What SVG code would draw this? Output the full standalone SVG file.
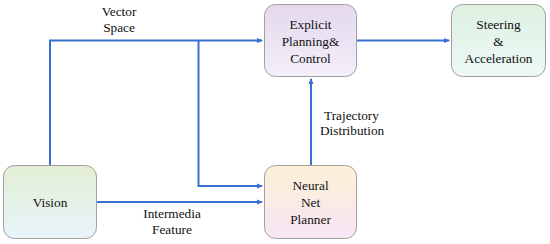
<svg xmlns="http://www.w3.org/2000/svg" width="550" height="244" viewBox="0 0 550 244">
<defs>
<linearGradient id="gExp" x1="0" y1="0" x2="0" y2="1"><stop offset="0" stop-color="#e4d8ee"/><stop offset="1" stop-color="#f4eff9"/></linearGradient>
<linearGradient id="gSte" x1="0" y1="0" x2="0" y2="1"><stop offset="0" stop-color="#ddf1e1"/><stop offset="1" stop-color="#edf8f6"/></linearGradient>
<linearGradient id="gVis" x1="0" y1="0" x2="0" y2="1"><stop offset="0" stop-color="#e3efd4"/><stop offset="1" stop-color="#e8f4fb"/></linearGradient>
<linearGradient id="gNeu" x1="0" y1="0" x2="0" y2="1"><stop offset="0" stop-color="#fdf0d5"/><stop offset="1" stop-color="#f8e5f7"/></linearGradient>
<marker id="arr" markerWidth="6" markerHeight="6" refX="5" refY="3" orient="auto" markerUnits="userSpaceOnUse"><path d="M0,0.5 L6,3 L0,5.5 Z" fill="#3a6fd2"/></marker>
</defs>
<style>
.box{stroke:#a0a0a0;stroke-width:1}
text{font-family:'Liberation Serif','Times New Roman',serif;font-size:13.3px;fill:#111111}
.t{text-anchor:middle}
.c{fill:none;stroke:#3a6fd2;stroke-width:2}
</style>
<g id="connectors">
<polyline class="c" points="50,165 50,40.5 262,40.5" marker-end="url(#arr)"/>
<polyline class="c" points="198.5,40.5 198.5,186 262,186" marker-end="url(#arr)"/>
<line class="c" x1="97" y1="202" x2="262" y2="202" marker-end="url(#arr)"/>
<line class="c" x1="311" y1="165" x2="311" y2="79" marker-end="url(#arr)"/>
<line class="c" x1="357" y1="40.5" x2="449" y2="40.5" marker-end="url(#arr)"/>
<text class="t" x="119" y="16">Vector</text>
<text class="t" x="119" y="32">Space</text>
<text class="t" x="172" y="218">Intermedia</text>
<text class="t" x="172" y="234">Feature</text>
<text x="324" y="120">Trajectory</text>
<text x="320" y="135">Distribution</text>
</g>
<g id="explicit">
<rect class="box" x="264.5" y="4.5" width="92" height="72" rx="11" fill="url(#gExp)"/>
<text class="t" x="310.5" y="29">Explicit</text>
<text class="t" x="310.5" y="46">Planning&amp;</text>
<text class="t" x="310.5" y="63">Control</text>
</g>
<g id="steering">
<rect class="box" x="451.5" y="4.5" width="94" height="72" rx="11" fill="url(#gSte)"/>
<text class="t" x="498.5" y="29">Steering</text>
<text class="t" x="498.5" y="46">&amp;</text>
<text class="t" x="498.5" y="63">Acceleration</text>
</g>
<g id="vision">
<rect class="box" x="3.5" y="165.5" width="93" height="73" rx="11" fill="url(#gVis)"/>
<text class="t" x="50" y="207">Vision</text>
</g>
<g id="neural">
<rect class="box" x="264.5" y="165.5" width="92" height="73" rx="11" fill="url(#gNeu)"/>
<text class="t" x="310.5" y="190">Neural</text>
<text class="t" x="310.5" y="207">Net</text>
<text class="t" x="310.5" y="224">Planner</text>
</g>
</svg>
